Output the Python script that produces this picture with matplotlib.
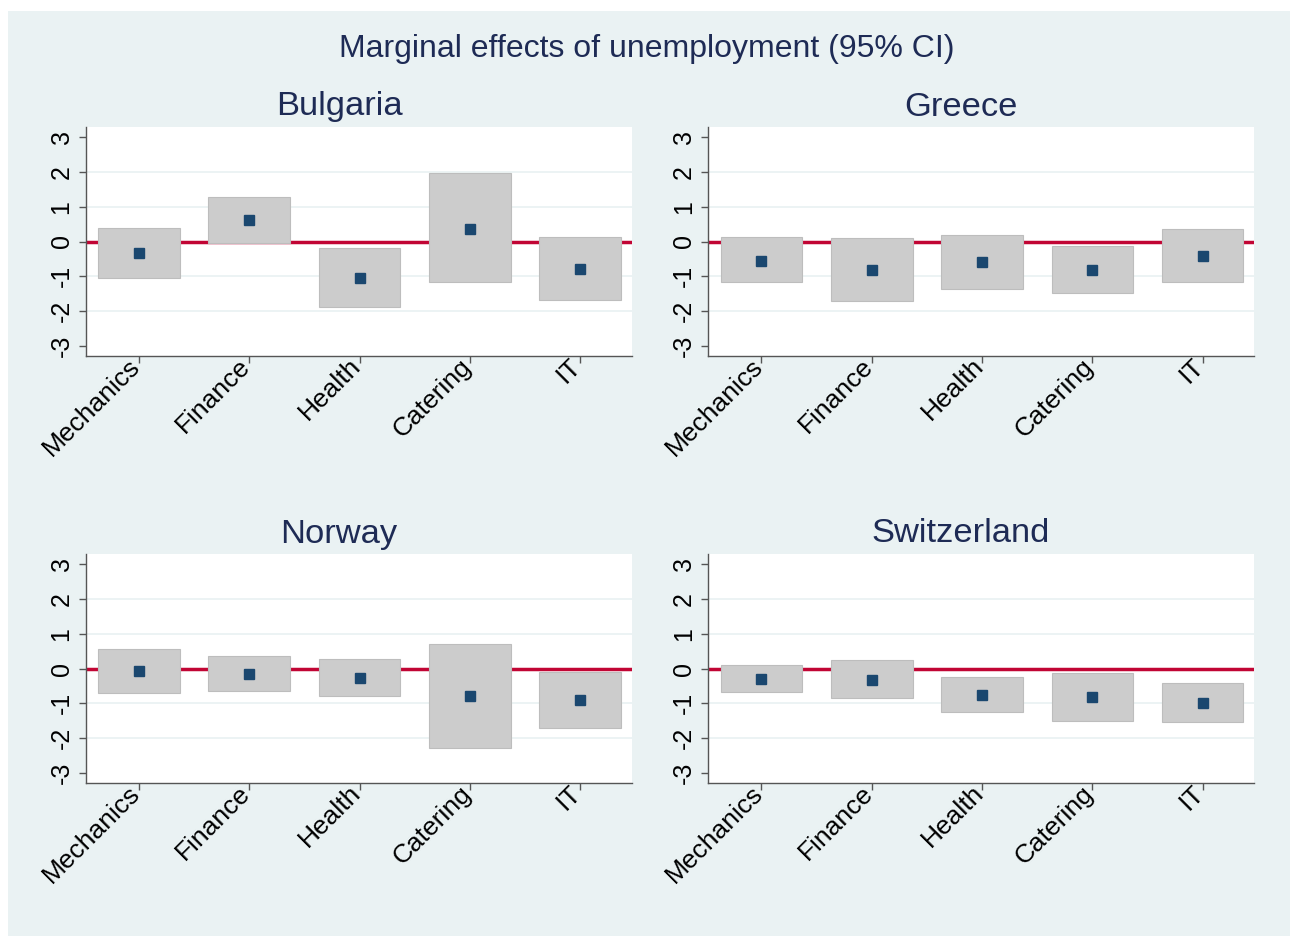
import matplotlib
matplotlib.use("Agg")
import matplotlib.pyplot as plt
from matplotlib.patches import Rectangle
import numpy as np

plt.rcParams["font.family"] = ["Liberation Sans", "DejaVu Sans"]

# sectors and point estimates / 95% CI bounds per country
sectors = ["Mechanics", "Finance", "Health", "Catering", "IT"]

bulgaria_est = [-0.34, 0.62, -1.06, 0.37, -0.79]
bulgaria_lo = [-1.05, -0.03, -1.89, -1.16, -1.69]
bulgaria_hi = [0.40, 1.28, -0.20, 1.96, 0.13]

greece_est = [-0.55, -0.83, -0.59, -0.81, -0.43]
greece_lo = [-1.18, -1.72, -1.38, -1.49, -1.16]
greece_hi = [0.13, 0.10, 0.20, -0.13, 0.35]

norway_est = [-0.08, -0.15, -0.27, -0.80, -0.92]
norway_lo = [-0.70, -0.65, -0.78, -2.28, -1.71]
norway_hi = [0.56, 0.36, 0.27, 0.70, -0.10]

swiss_est = [-0.30, -0.33, -0.76, -0.82, -0.98]
swiss_lo = [-0.68, -0.84, -1.24, -1.51, -1.54]
swiss_hi = [0.11, 0.25, -0.25, -0.12, -0.41]

BG = "#EAF2F3"
NAVY = "#1A476F"
RED = "#C10534"
TITLE = "#1E2B55"

W, H = 1290, 936
fig = plt.figure(figsize=(W / 100, H / 100), dpi=100, facecolor="white")
fig.patches.append(Rectangle((8 / W, 0), 1 - 8 / W, 1 - 11 / H, transform=fig.transFigure,
                             facecolor=BG, edgecolor="none", zorder=-10))

fig.text(647 / W, 1 - 49 / H, "Marginal effects of unemployment (95% CI)",
         ha="center", va="center", fontsize=23, color=TITLE)

panels = [
    ("Bulgaria", bulgaria_est, bulgaria_lo, bulgaria_hi, 86, 127, 339),
    ("Greece", greece_est, greece_lo, greece_hi, 708.5, 127, 961),
    ("Norway", norway_est, norway_lo, norway_hi, 86, 554, 339),
    ("Switzerland", swiss_est, swiss_lo, swiss_hi, 708.5, 554, 961),
]
pw, ph = 546, 229

x = np.arange(1, len(sectors) + 1)
for name, est, lo, hi, left, top, tx in panels:
    ax = fig.add_axes([left / W, 1 - (top + ph) / H, pw / W, ph / H])
    ax.set_facecolor("white")
    ax.set_xlim(0.52, 5.47)
    ax.set_ylim(-3.3, 3.3)

    for g in (-2, -1, 1, 2):
        ax.axhline(g, color=BG, lw=1.3, zorder=0)
    ax.axhline(0, color=RED, lw=2.5, zorder=1)

    ax.bar(x, np.array(hi) - np.array(lo), bottom=lo, width=0.74,
           color="#CCCCCC", edgecolor="#BDBDBD", linewidth=0.8, zorder=2)
    ax.plot(x, est, ls="none", marker="s", ms=6.5, color=NAVY, zorder=3)

    for s in ("top", "right"):
        ax.spines[s].set_visible(False)
    for s in ("left", "bottom"):
        ax.spines[s].set_color("#555555")
        ax.spines[s].set_linewidth(1.0)

    ax.set_yticks([-3, -2, -1, 0, 1, 2, 3])
    ax.set_yticklabels(["-3", "-2", "-1", "0", "1", "2", "3"], rotation=90, va="center",
                       fontsize=18)
    ax.set_xticks(x)
    ax.set_xticklabels([])
    # slanted category labels ending right at each tick
    for xi, lab in zip(x, sectors):
        ax.annotate(lab, xy=(xi, 0), xycoords=("data", "axes fraction"),
                    xytext=(-7.9, 1.4), textcoords="offset points",
                    rotation=45, ha="right", va="top", rotation_mode="anchor",
                    fontsize=19, annotation_clip=False)
    ax.tick_params(axis="both", color="#555555", length=5, width=1.0)
    ax.tick_params(axis="y", pad=4)

    fig.text(tx / W, 1 - (top - 20) / H, name, ha="center", va="center",
             fontsize=24.8, color=TITLE)

fig.savefig("out.png", dpi=100, facecolor="white")
